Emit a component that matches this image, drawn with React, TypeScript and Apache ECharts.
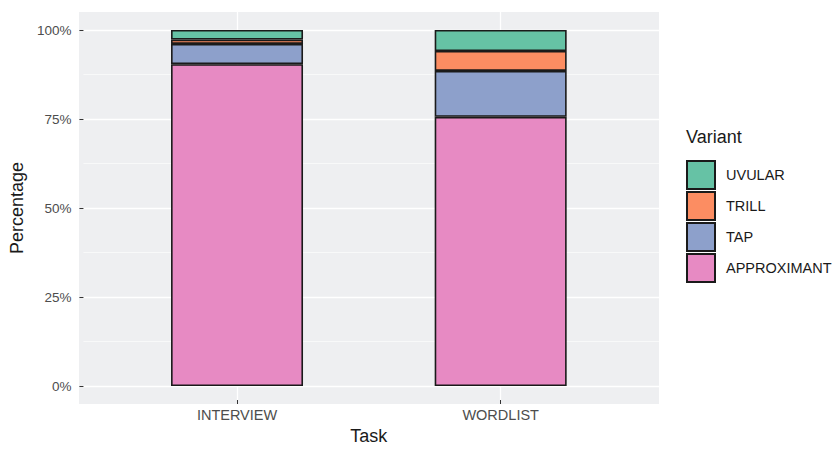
import React, { useEffect, useRef } from "react";
import * as echarts from "echarts";

const categories = ["INTERVIEW", "WORDLIST"];
const variants = ["APPROXIMANT", "TAP", "TRILL", "UVULAR"];
const approximant = [90.4, 75.6];
const tap = [5.7, 12.9];
const trill = [1.2, 5.6];
const uvular = [2.7, 5.9];
const colors: Record<string, string> = {
  APPROXIMANT: "#E78AC3",
  TAP: "#8DA0CB",
  TRILL: "#FC8D62",
  UVULAR: "#66C2A5",
};
const legendOrder = ["UVULAR", "TRILL", "TAP", "APPROXIMANT"];

export default function App() {
  const ref = useRef<HTMLDivElement>(null);
  useEffect(() => {
    if (!ref.current) return;
    const chart = echarts.init(ref.current, undefined, { renderer: "svg" });
    const values: Record<string, number[]> = {
      APPROXIMANT: approximant,
      TAP: tap,
      TRILL: trill,
      UVULAR: uvular,
    };
    const font = "Liberation Sans, Arial, sans-serif";
    const barSeries = variants.map((v) => ({
      name: v,
      type: "bar",
      stack: "total",
      xAxisIndex: 3,
      yAxisIndex: 3,
      barWidth: 132,
      z: 3,
      data: values[v],
      itemStyle: { color: colors[v], borderColor: "#1a1a1a", borderWidth: 1.6 },
    }));
    const panel = { left: 79, right: 174, top: 12, bottom: 46 };
    const inner = { left: 79, right: 174, top: 30, bottom: 64 };
    const catFull = { left: 105.2, right: 200.5, top: 12, bottom: 46 };
    const catInner = { left: 105.2, right: 200.5, top: 30, bottom: 64 };
    chart.setOption({
      animation: false,
      textStyle: { fontFamily: font },
      grid: [
        { ...panel, show: true, backgroundColor: "#EEEFF1", borderWidth: 0 },
        { ...catFull },
        { ...inner },
        { ...catInner },
      ],
      title: {
        text: "Variant",
        left: 686,
        top: 128,
        padding: 0,
        textStyle: { fontFamily: font, fontSize: 18, fontWeight: "normal", color: "#1a1a1a" },
      },
      legend: {
        data: legendOrder,
        orient: "vertical",
        left: 686,
        top: 160,
        padding: 0,
        itemWidth: 28,
        itemHeight: 28,
        itemGap: 1,
        icon: "rect",
        textStyle: { fontFamily: font, fontSize: 14.5, color: "#1a1a1a", padding: [0, 0, 0, 6] },
        selectedMode: false,
      },
      xAxis: [
        { gridIndex: 0, type: "value", min: 0, max: 1, show: false },
        {
          gridIndex: 1,
          type: "category",
          data: categories,
          name: "Task",
          nameLocation: "middle",
          nameGap: 27,
          nameTextStyle: { fontFamily: font, fontSize: 18, color: "#1a1a1a" },
          axisLine: { show: false },
          axisTick: { show: true, alignWithLabel: true, length: 4, lineStyle: { color: "#333333" } },
          axisLabel: { color: "#4D4D4D", fontSize: 14.5, margin: 7, fontFamily: font },
          splitLine: { show: false },
        },
        { gridIndex: 2, type: "value", min: 0, max: 1, show: false },
        { gridIndex: 3, type: "category", data: categories, show: false },
      ],
      yAxis: [
        { gridIndex: 0, type: "value", min: 0, max: 1, show: false },
        { gridIndex: 1, type: "value", min: 0, max: 1, show: false },
        {
          gridIndex: 2,
          type: "value",
          min: 0,
          max: 100,
          interval: 25,
          name: "Percentage",
          nameLocation: "middle",
          nameGap: 55,
          nameRotate: 90,
          nameTextStyle: { fontFamily: font, fontSize: 18, color: "#1a1a1a" },
          axisLine: { show: false },
          axisTick: { show: true, length: 4, lineStyle: { color: "#333333" } },
          axisLabel: { formatter: "{value}%", color: "#4D4D4D", fontSize: 13.5, margin: 12, fontFamily: font },
          splitLine: { show: true, lineStyle: { color: "#ffffff", width: 1.3 } },
          minorTick: { show: false, splitNumber: 2 },
          minorSplitLine: { show: true, lineStyle: { color: "#ffffff", width: 0.6 } },
        },
        { gridIndex: 3, type: "value", min: 0, max: 100, show: false },
      ],
      series: [
        {
          type: "line",
          xAxisIndex: 1,
          yAxisIndex: 1,
          data: [],
          z: 1,
          silent: true,
          markLine: {
            z: 1,
            silent: true,
            symbol: "none",
            label: { show: false },
            lineStyle: { color: "#ffffff", width: 1.3, type: "solid" },
            data: categories.map((c) => ({ xAxis: c })),
          },
        },
        ...barSeries,
      ],
    });
    return () => chart.dispose();
  }, []);
  return (
    <div
      ref={ref}
      style={{ position: "fixed", left: 0, top: 0, width: 833, height: 450, background: "#ffffff" }}
    />
  );
}
